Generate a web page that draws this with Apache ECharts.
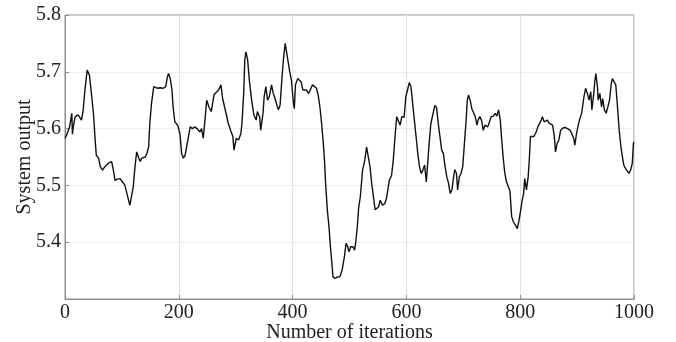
<!DOCTYPE html>
<html>
<head>
<meta charset="utf-8">
<script src="https://cdn.jsdelivr.net/npm/echarts@6/dist/echarts.min.js"></script>
<style>
  html, body { margin: 0; padding: 0; background: #fff; }
  #chart { width: 676px; height: 342px; }
</style>
</head>
<body>
<div id="chart"></div>
<script>
// values
const iterations = [
  0, 3, 8, 12, 13, 15, 18, 23, 29, 32, 35, 39, 43, 47, 50, 53, 55, 59, 62, 66,
  70, 76, 82, 85, 88, 92, 97, 101, 105, 108, 111, 114, 117, 120, 123, 126, 129, 132, 135, 141,
  144, 147, 149, 152, 156, 159, 163, 167, 173, 177, 180, 182, 185, 188, 190, 193, 198, 202, 205, 208,
  211, 214, 217, 220, 224, 228, 233, 237, 240, 243, 246, 249, 253, 257, 259, 262, 265, 270, 274, 277,
  279, 283, 287, 291, 295, 297, 301, 305, 309, 311, 314, 316, 318, 321, 324, 328, 332, 336, 338, 342,
  344, 348, 350, 353, 356, 359, 363, 366, 369, 372, 375, 378, 381, 384, 387, 391, 395, 398, 401, 403,
  405, 409, 412, 415, 418, 421, 424, 428, 431, 435, 438, 442, 445, 448, 451, 454, 456, 458, 461, 464,
  466, 469, 471, 475, 479, 483, 487, 491, 494, 497, 499, 502, 506, 509, 511, 514, 516, 519, 523, 527,
  530, 533, 536, 539, 542, 545, 548, 551, 554, 558, 562, 565, 570, 574, 577, 580, 583, 586, 589, 592,
  596, 599, 602, 605, 608, 611, 614, 617, 620, 623, 626, 629, 632, 635, 637, 640, 643, 647, 650, 653,
  656, 659, 662, 665, 668, 671, 674, 677, 680, 683, 685, 688, 690, 693, 696, 699, 702, 705, 707, 709,
  712, 715, 718, 721, 724, 726, 729, 732, 735, 738, 743, 746, 749, 753, 756, 759, 762, 765, 767, 770,
  773, 776, 779, 782, 785, 788, 791, 795, 798, 801, 803, 806, 808, 811, 814, 816, 818, 821, 824, 828,
  831, 834, 837, 839, 842, 845, 848, 851, 854, 857, 860, 862, 865, 868, 871, 875, 879, 883, 888, 891,
  894, 896, 899, 902, 905, 908, 912, 915, 918, 921, 924, 926, 929, 931, 933, 936, 937, 940, 943, 945,
  948, 951, 954, 957, 960, 962, 965, 968, 971, 974, 977, 980, 982, 985, 988, 991, 994, 997, 999, 1000
];
const systemOutput = [
  5.583, 5.589, 5.603, 5.627, 5.590, 5.606, 5.621, 5.624, 5.615, 5.633, 5.668, 5.703, 5.694, 5.656, 5.627, 5.580, 5.553, 5.548, 5.533, 5.527,
  5.533, 5.539, 5.542, 5.527, 5.509, 5.511, 5.512, 5.506, 5.501, 5.489, 5.486, 5.465, 5.468, 5.498, 5.533, 5.559, 5.550, 5.542, 5.548, 5.550,
  5.556, 5.568, 5.609, 5.644, 5.674, 5.677, 5.671, 5.672, 5.671, 5.674, 5.691, 5.697, 5.688, 5.668, 5.638, 5.612, 5.606, 5.591, 5.556, 5.548,
  5.553, 5.556, 5.586, 5.603, 5.600, 5.603, 5.599, 5.594, 5.600, 5.583, 5.615, 5.650, 5.638, 5.630, 5.628, 5.660, 5.659, 5.668, 5.677, 5.653,
  5.650, 5.627, 5.609, 5.597, 5.586, 5.562, 5.583, 5.580, 5.591, 5.609, 5.662, 5.721, 5.735, 5.721, 5.685, 5.650, 5.624, 5.615, 5.630, 5.621,
  5.597, 5.627, 5.656, 5.674, 5.650, 5.656, 5.677, 5.662, 5.653, 5.650, 5.633, 5.641, 5.685, 5.723, 5.750, 5.725, 5.700, 5.685, 5.650, 5.635,
  5.677, 5.688, 5.691, 5.682, 5.668, 5.671, 5.668, 5.662, 5.668, 5.677, 5.674, 5.671, 5.659, 5.638, 5.609, 5.574, 5.545, 5.504, 5.457, 5.427,
  5.398, 5.363, 5.339, 5.336, 5.339, 5.339, 5.351, 5.374, 5.398, 5.392, 5.383, 5.392, 5.392, 5.386, 5.400, 5.430, 5.460, 5.480, 5.527, 5.545,
  5.568, 5.565, 5.533, 5.504, 5.501, 5.457, 5.460, 5.462, 5.474, 5.465, 5.468, 5.477, 5.509, 5.518, 5.545, 5.586, 5.621, 5.618, 5.606, 5.621,
  5.620, 5.656, 5.668, 5.681, 5.674, 5.644, 5.615, 5.586, 5.556, 5.533, 5.521, 5.527, 5.536, 5.506, 5.533, 5.574, 5.609, 5.627, 5.641, 5.637,
  5.609, 5.586, 5.562, 5.556, 5.533, 5.515, 5.504, 5.486, 5.492, 5.515, 5.528, 5.521, 5.492, 5.515, 5.521, 5.533, 5.574, 5.615, 5.650, 5.659,
  5.650, 5.635, 5.633, 5.621, 5.606, 5.615, 5.621, 5.615, 5.597, 5.606, 5.603, 5.603, 5.621, 5.622, 5.627, 5.622, 5.633, 5.615, 5.586, 5.550,
  5.521, 5.506, 5.504, 5.490, 5.445, 5.436, 5.433, 5.424, 5.439, 5.457, 5.471, 5.486, 5.512, 5.492, 5.515, 5.545, 5.586, 5.589, 5.586, 5.594,
  5.603, 5.603, 5.615, 5.621, 5.612, 5.615, 5.615, 5.609, 5.612, 5.606, 5.586, 5.559, 5.574, 5.580, 5.597, 5.601, 5.602, 5.600, 5.597, 5.597,
  5.583, 5.571, 5.591, 5.606, 5.618, 5.627, 5.656, 5.671, 5.662, 5.650, 5.665, 5.633, 5.659, 5.682, 5.697, 5.671, 5.650, 5.662, 5.638, 5.653,
  5.633, 5.627, 5.638, 5.650, 5.679, 5.688, 5.691, 5.677, 5.638, 5.597, 5.568, 5.548, 5.536, 5.530, 5.527, 5.521, 5.527, 5.539, 5.574, 5.577
];
const xTicks = [0, 200, 400, 600, 800, 1000];
const yTicks = ['5.4', '5.5', '5.6', '5.7', '5.8'];

const font = '"Liberation Serif", "Times New Roman", serif';
const chart = echarts.init(document.getElementById('chart'));

chart.setOption({
  backgroundColor: '#fff',
  animation: false,
  grid: {
    left: 65, right: 42, top: 15, bottom: 43,
    outerBoundsMode: 'none',
    show: true, borderColor: '#8c8c8c', borderWidth: 1, backgroundColor: 'transparent'
  },
  xAxis: {
    type: 'value',
    min: xTicks[0],
    max: xTicks[xTicks.length - 1],
    interval: 200,
    name: 'Number of iterations',
    nameLocation: 'middle',
    nameMoveOverlap: false,
    nameGap: 24,
    nameTextStyle: { fontFamily: font, fontSize: 20, color: '#222' },
    axisLine: { show: true, lineStyle: { color: '#8c8c8c' } },
    axisTick: { show: true, inside: true, length: 4, lineStyle: { color: '#8c8c8c' } },
    axisLabel: {
      fontFamily: font, fontSize: 20, color: '#222', margin: 4,
      formatter: v => xTicks.includes(v) ? String(v) : ''
    },
    splitLine: { show: true, lineStyle: { color: '#e2e2e2', type: 'solid' } }
  },
  yAxis: {
    type: 'value',
    min: 5.3,
    max: 5.8,
    interval: 0.1,
    name: 'System output',
    nameLocation: 'middle',
    nameMoveOverlap: false,
    nameGap: 30,
    nameTextStyle: { fontFamily: font, fontSize: 20, color: '#222' },
    axisLine: { show: true, lineStyle: { color: '#8c8c8c' } },
    axisTick: { show: true, inside: true, length: 4, lineStyle: { color: '#8c8c8c' } },
    axisLabel: {
      fontFamily: font, fontSize: 20, color: '#222', margin: 4,
      formatter: v => {
        const s = v.toFixed(1);
        return yTicks.includes(s) ? s : '';
      }
    },
    splitLine: { show: true, lineStyle: { color: '#dcdcdc', type: 'dotted' } }
  },
  series: [{
    type: 'line',
    data: iterations.map((x, i) => [x, systemOutput[i]]),
    showSymbol: false,
    lineStyle: { color: '#111', width: 1.4 }
  }]
});
</script>
</body>
</html>
